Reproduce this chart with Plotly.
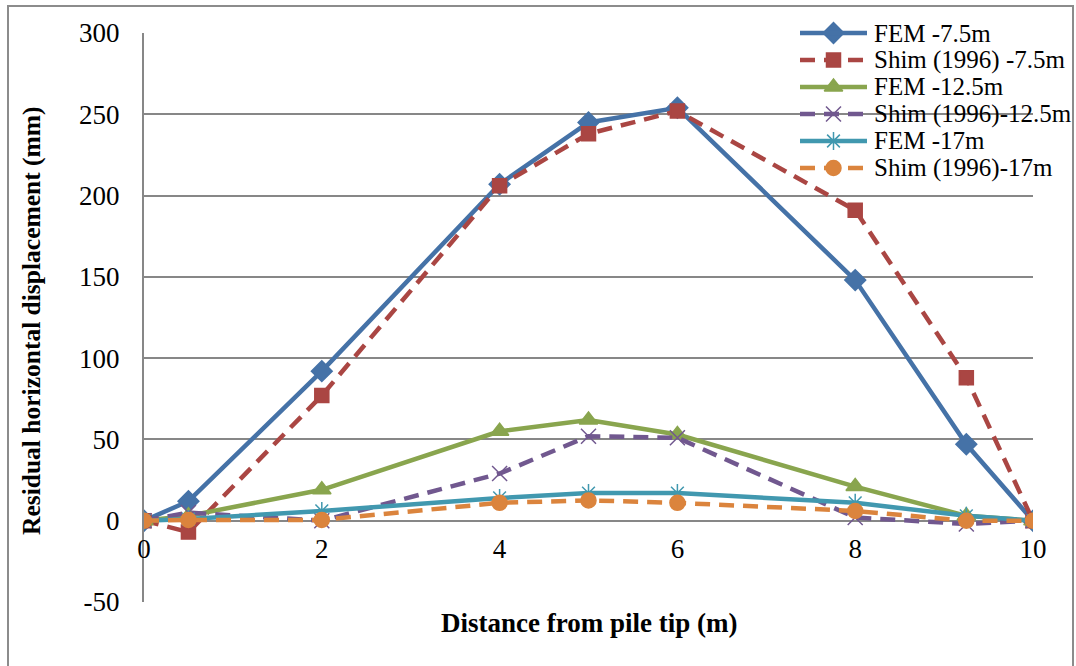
import plotly.graph_objects as go

# Distance from pile tip (m)
distance = [0, 0.5, 2, 4, 5, 6, 8, 9.25, 10]

# Residual horizontal displacement (mm)
fem_7_5 = [0, 12, 92, 207, 245, 254, 148, 47, 0]
shim_7_5 = [0, -7, 77, 206, 238, 252, 191, 88, 0]
fem_12_5 = [0, 3, 19, 55, 62, 53, 21, 3, 0]
shim_12_5 = [0, 5, 0, 29, 52, 51, 2, -2, 0]
fem_17 = [0, 1, 6, 14, 17, 17, 11, 3, 0]
shim_17 = [0, 0.5, 0.5, 11, 12.5, 11, 6, 0, 0]

y_ticks = [-50, 0, 50, 100, 150, 200, 250, 300]
y_tick_text = ["-50", "0", "50", "100", "150", "200", "250", "300"]
x_ticks = [0, 2, 4, 6, 8, 10]

SERIF = "Liberation Serif, Times New Roman, serif"
DASH = "15px,9px"

series = [
    ("FEM -7.5m", fem_7_5, "#4572A7", "solid", "diamond", 16),
    ("Shim (1996) -7.5m", shim_7_5, "#AA4643", DASH, "square", 14),
    ("FEM -12.5m", fem_12_5, "#89A54E", "solid", "triangle-up", 16),
    ("Shim (1996)-12.5m", shim_12_5, "#71588F", DASH, "x-thin-open", 15),
    ("FEM -17m", fem_17, "#4198AF", "solid", "asterisk-open", 15),
    ("Shim (1996)-17m", shim_17, "#DB843D", DASH, "circle", 15),
]

# Figure / plot-area geometry in pixels
W, H = 1076, 666
L, R, T, B = 144, 43, 33, 64
PW, PH = W - L - R, H - T - B


def px_x(px):
    return (px - L) / PW


def px_y(py):
    return (H - B - py) / PH


fig = go.Figure()
for name, values, color, dash, symbol, size in series:
    fig.add_trace(go.Scatter(
        x=distance, y=values, name=name, mode="lines+markers",
        line=dict(color=color, width=4.5, dash=dash),
        marker=dict(symbol=symbol, size=size, color=color,
                    line=dict(color=color, width=1.5)),
        showlegend=False,
    ))

# Legend drawn as a key: sample line, marker and label per series
key_x0, key_x1, key_text = 800, 867, 872
key_rows = [33, 60, 87, 114, 141, 168]
for (name, values, color, dash, symbol, size), ry in zip(series, key_rows):
    fig.add_shape(
        type="line", xref="paper", yref="paper",
        x0=px_x(key_x0), x1=px_x(key_x1), y0=px_y(ry), y1=px_y(ry),
        line=dict(color=color, width=4.5, dash=dash),
    )
    fig.add_trace(go.Scatter(
        x=[(key_x0 + key_x1) / 2], y=[ry], xaxis="x2", yaxis="y2",
        mode="markers", cliponaxis=False, showlegend=False, hoverinfo="skip",
        marker=dict(symbol=symbol, size=size, color=color,
                    line=dict(color=color, width=1.5)),
    ))
    fig.add_annotation(
        text=name, xref="paper", yref="paper", x=px_x(key_text), y=px_y(ry),
        xanchor="left", yanchor="middle", showarrow=False,
        font=dict(size=25, family=SERIF, color="black"),
    )

y_min, y_max = -50, 300
fig.update_layout(
    width=W, height=H,
    margin=dict(l=L, r=R, t=T, b=B),
    paper_bgcolor="white", plot_bgcolor="white",
    font=dict(family=SERIF, size=27, color="black"),
    showlegend=False,
    xaxis=dict(
        range=[0, 10], tickvals=x_ticks, showgrid=False, zeroline=False,
        showline=False, anchor="free",
        position=(0 - y_min) / (y_max - y_min),
        ticklabelstandoff=9, tickfont=dict(size=27, family=SERIF),
    ),
    yaxis=dict(
        range=[y_min, y_max], tickvals=y_ticks, ticktext=y_tick_text,
        showgrid=True, gridcolor="#878787", gridwidth=2, zeroline=False,
        showline=True, linecolor="#878787", linewidth=2,
        ticklabelstandoff=17, tickfont=dict(size=27, family=SERIF),
    ),
    xaxis2=dict(range=[L, W - R], overlaying="x", visible=False),
    yaxis2=dict(range=[H - B, T], overlaying="y", visible=False),
)

fig.add_annotation(
    text="<b>Residual horizontal displacement (mm)</b>",
    xref="paper", yref="paper", x=px_x(31), y=px_y(321), textangle=-90,
    xanchor="center", yanchor="middle",
    showarrow=False, font=dict(size=25.5, family=SERIF),
)
fig.add_annotation(
    text="<b>Distance from pile tip (m)</b>",
    xref="paper", yref="paper", x=0.5, y=px_y(623),
    xanchor="center", yanchor="middle",
    showarrow=False, font=dict(size=27, family=SERIF),
)

# Chart frame
fig.add_shape(
    type="rect", xref="paper", yref="paper",
    x0=px_x(8), x1=px_x(1073), y0=px_y(680), y1=px_y(6),
    line=dict(color="#8c8c8c", width=2), layer="below",
)

fig.write_html("out.html")
